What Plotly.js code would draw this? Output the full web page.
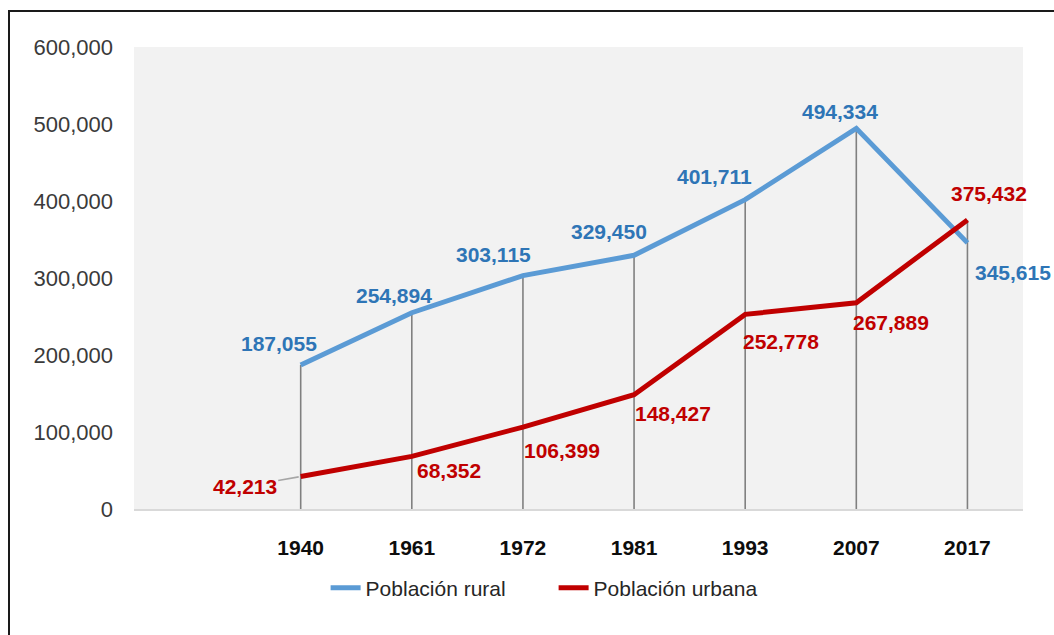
<!DOCTYPE html>
<html>
<head>
<meta charset="utf-8">
<script src="https://cdn.plot.ly/plotly-3.0.1.min.js"></script>
<style>
  html, body { margin: 0; padding: 0; background: #fff; }
  #wrap { position: relative; width: 1054px; height: 635px; overflow: hidden; }
  #chart { position: absolute; left: 0; top: 0; width: 1054px; height: 635px; }
  #frame { position: absolute; left: 8px; top: 10px; width: 1100px; height: 700px;
           border-left: 2px solid #1a1a1a; border-top: 2px solid #1a1a1a; pointer-events: none; }
</style>
</head>
<body>
<div id="wrap">
  <div id="chart"></div>
  <div id="frame"></div>
</div>
<script>
// ---- data ----
const years = ["1940", "1961", "1972", "1981", "1993", "2007", "2017"];
const rural = [187055, 254894, 303115, 329450, 401711, 494334, 345615];
const urbana = [42213, 68352, 106399, 148427, 252778, 267889, 375432];
const seriesNames = ["Población rural", "Población urbana"];

// ---- label offsets (pixels, styling only) ----
const ruralShift = [[-22, 21], [-18, 17], [-29, 21], [-25, 24], [-31, 23], [-16, 17], [46, -30]];
const urbanShift = [[-56, -10], [37, -14], [39, -23], [39, -19], [36, -27], [35, -20], [22, 26]];

const FONT = '"Liberation Sans", Arial, sans-serif';
const BLUE = '#5b9bd5', BLUE_TXT = '#2e75b6', RED = '#c00000';

// drop lines from the higher value down to the axis
const dropX = [], dropY = [];
years.forEach((y, i) => {
  dropX.push(y, y, null);
  dropY.push(0, Math.max(rural[i], urbana[i]), null);
});

const traces = [
  { x: dropX, y: dropY, mode: 'lines', line: { color: '#808080', width: 1.6 },
    showlegend: false, hoverinfo: 'skip' },
  { x: years, y: rural, name: seriesNames[0], mode: 'lines',
    line: { color: BLUE, width: 5 } },
  { x: years, y: urbana, name: seriesNames[1], mode: 'lines',
    line: { color: RED, width: 5 } }
];

// annotations on the category axis use the category index (year strings look numeric)
const fmt = v => v.toLocaleString('en-US');
const annotations = [];
years.forEach((yr, i) => {
  annotations.push({ x: i, y: rural[i], xref: 'x', yref: 'y', text: '<b>' + fmt(rural[i]) + '</b>',
    showarrow: false, xshift: ruralShift[i][0], yshift: ruralShift[i][1],
    font: { family: FONT, size: 21, color: BLUE_TXT } });
  if (i === 0) {
    annotations.push({ x: i, y: urbana[i], xref: 'x', yref: 'y', text: '<b>' + fmt(urbana[i]) + '</b>',
      showarrow: true, arrowhead: 0, arrowwidth: 1.6, arrowcolor: '#a6a6a6', standoff: 2,
      ax: urbanShift[i][0], ay: -urbanShift[i][1],
      font: { family: FONT, size: 21, color: RED } });
  } else {
    annotations.push({ x: i, y: urbana[i], xref: 'x', yref: 'y', text: '<b>' + fmt(urbana[i]) + '</b>',
      showarrow: false, xshift: urbanShift[i][0], yshift: urbanShift[i][1],
      font: { family: FONT, size: 21, color: RED } });
  }
});

const layout = {
  width: 1054, height: 635,
  margin: { l: 134, r: 31, t: 47, b: 126 },
  paper_bgcolor: '#ffffff', plot_bgcolor: '#f2f2f2',
  font: { family: FONT, color: '#3a3a3a' },
  showlegend: true,
  legend: { orientation: 'h', x: 0.472, xanchor: 'center', y: -0.171, yanchor: 'middle',
    entrywidth: 183, entrywidthmode: 'pixels',
    font: { family: FONT, size: 21, color: '#262626' }, bgcolor: 'rgba(0,0,0,0)' },
  xaxis: { type: 'category', range: [-1.5, 6.5], showgrid: false, zeroline: false,
    showline: true, linecolor: '#d9d9d9', linewidth: 2, ticks: '',
    tickfont: { family: FONT, size: 21, color: '#0d0d0d', weight: 'bold' }, ticklabelstandoff: 19 },
  yaxis: { range: [0, 600000], dtick: 100000, tickformat: ',', showgrid: false, zeroline: false,
    showline: false, ticks: '', tickfont: { family: FONT, size: 22, color: '#3a3a3a' },
    ticklabelstandoff: 20 },
  annotations: annotations
};

Plotly.newPlot('chart', traces, layout, { displayModeBar: false, staticPlot: true });
</script>
</body>
</html>
